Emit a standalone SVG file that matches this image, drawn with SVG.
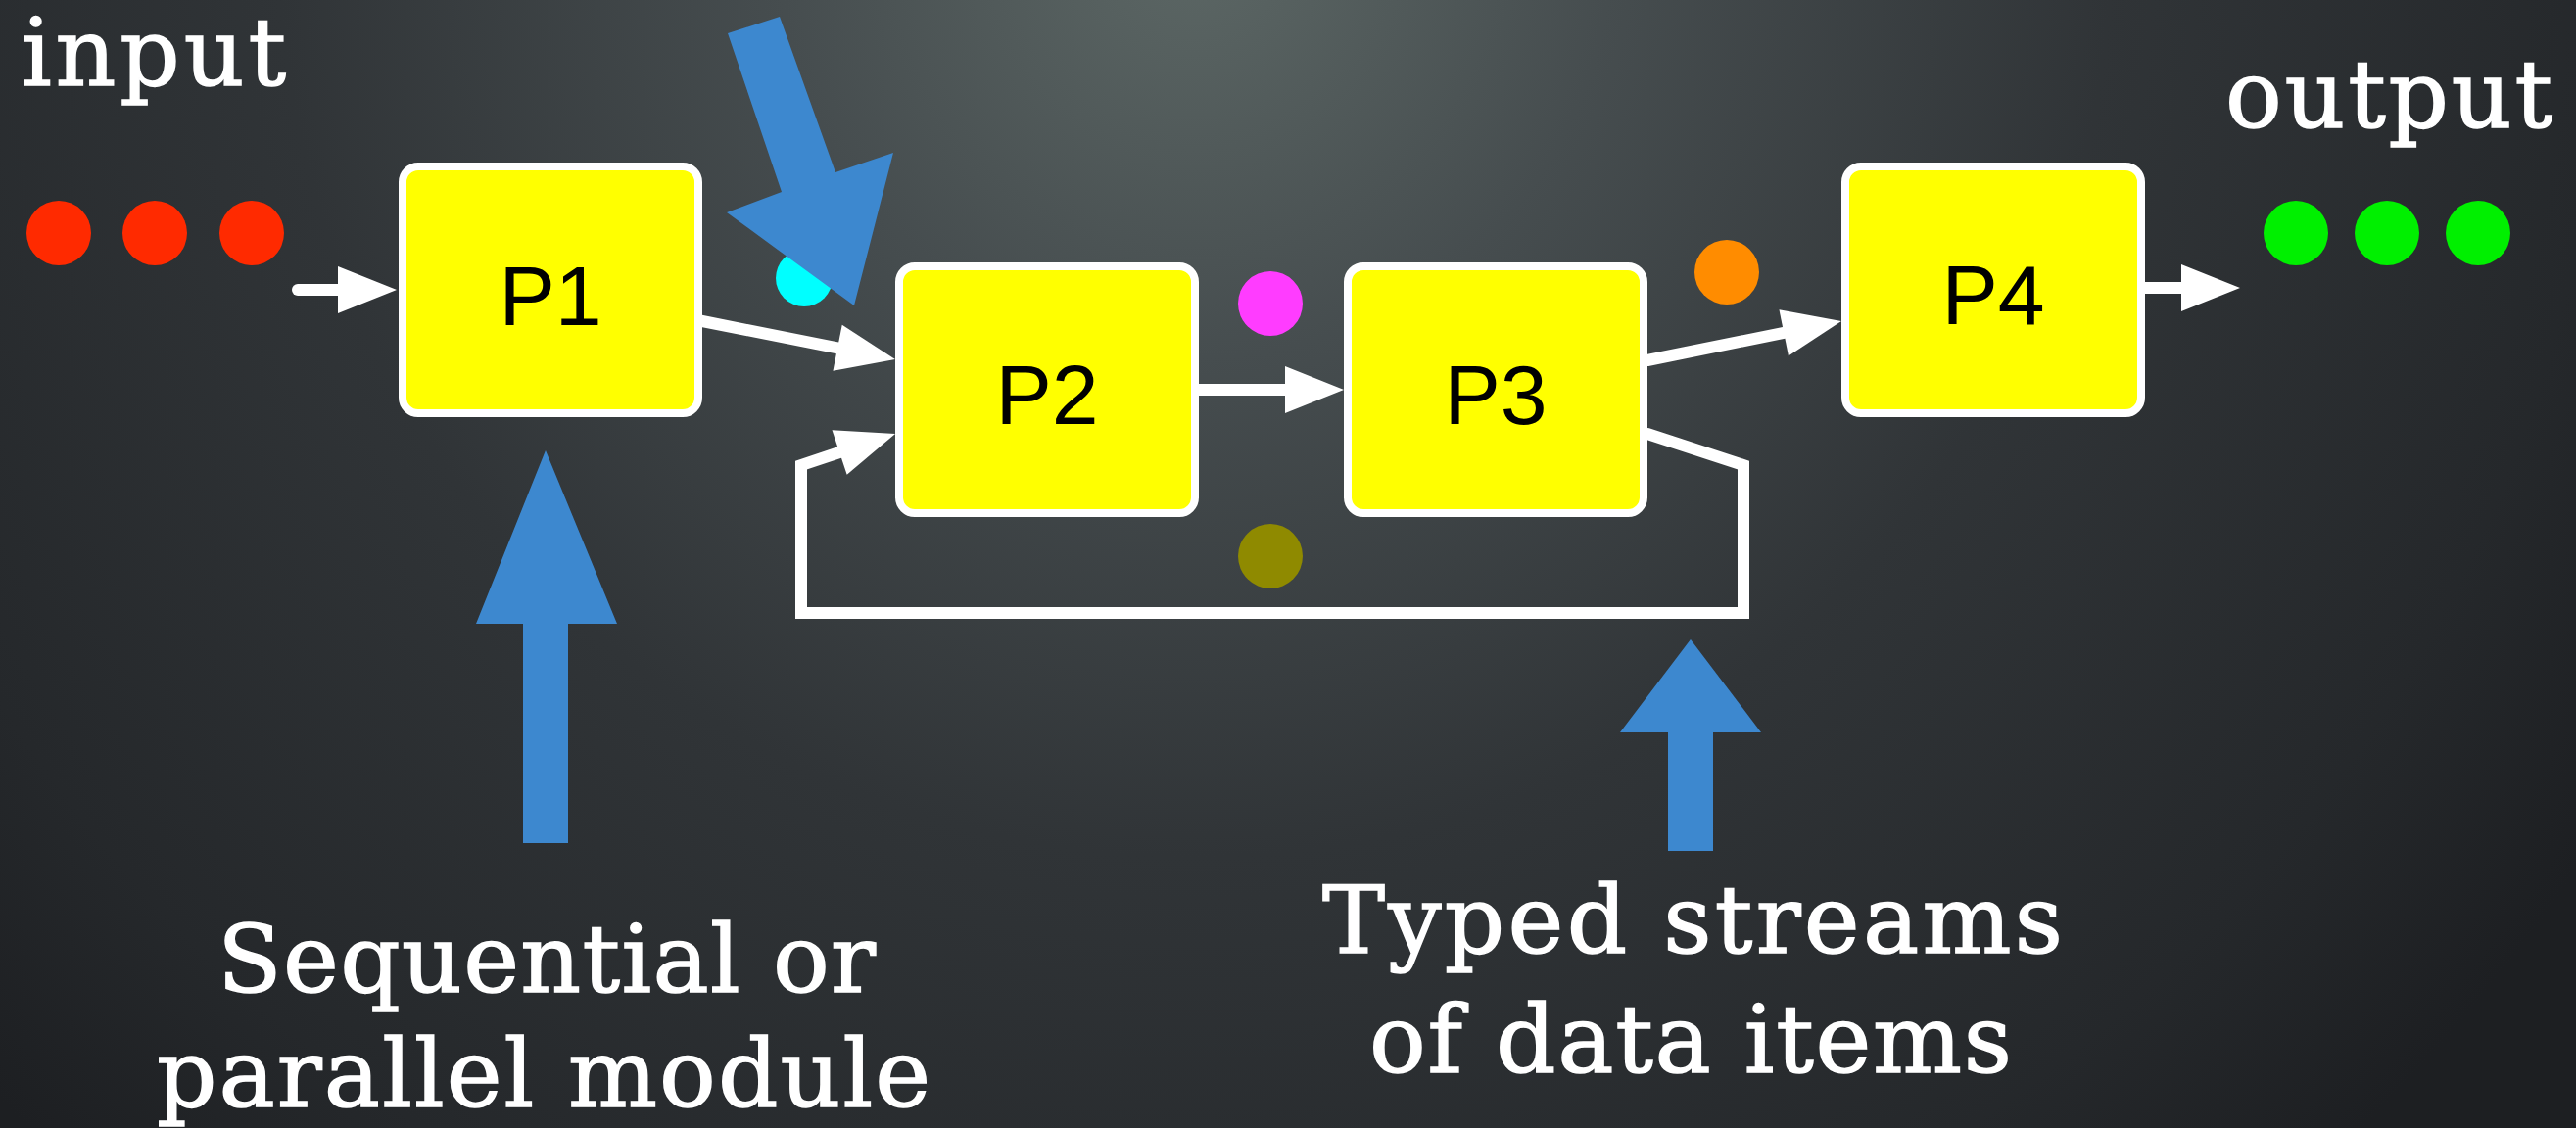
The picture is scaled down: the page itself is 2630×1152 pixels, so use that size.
<svg xmlns="http://www.w3.org/2000/svg" width="2630" height="1152" viewBox="0 0 2630 1152">
  <defs>
    <radialGradient id="bg" gradientUnits="userSpaceOnUse" cx="1220" cy="-60" r="1700">
      <stop offset="0" stop-color="#5c6765"/>
      <stop offset="0.25" stop-color="#464d4f"/>
      <stop offset="0.55" stop-color="#303437"/>
      <stop offset="0.85" stop-color="#25282b"/>
      <stop offset="1" stop-color="#1d1f22"/>
    </radialGradient>
    <!-- arrowhead: its base sits on the end of the wire, the tip points forward -->
    <marker id="head" markerUnits="userSpaceOnUse" markerWidth="62" markerHeight="48" refX="0" refY="24" orient="auto" overflow="visible">
      <path d="M0,0 L60,24 L0,48 Z" fill="#ffffff"/>
    </marker>
    <style>
      .box { fill: #ffff00; stroke: #ffffff; stroke-width: 8; }
      .plabel { font-family: "Liberation Sans", Arial, sans-serif; font-size: 86px; fill: #000000; text-anchor: middle; }
      .caption { font-family: "DejaVu Serif", "Liberation Serif", serif; font-size: 96px; fill: #ffffff; stroke: #ffffff; stroke-width: 1.5; }
      .wire { fill: none; stroke: #ffffff; stroke-width: 12; stroke-linecap: round; stroke-linejoin: miter; }
      .callout { fill: #3d88cf; }
    </style>
  </defs>

  <!-- backdrop -->
  <rect x="0" y="0" width="2630" height="1152" fill="url(#bg)"/>

  <!-- captions -->
  <g id="captions">
    <text class="caption" x="22" y="87" font-size="92" textLength="270">input</text>
    <text class="caption" x="2272" y="130" textLength="334">output</text>
    <text class="caption" x="222" y="1013" textLength="672">Sequential or</text>
    <text class="caption" x="160" y="1130" textLength="790">parallel module</text>
    <text class="caption" x="1350" y="973" textLength="756">Typed streams</text>
    <text class="caption" x="1398" y="1095" textLength="656">of data items</text>
  </g>

  <!-- input data items -->
  <g id="input-items" fill="#ff2a00">
    <circle cx="60" cy="238" r="33"/>
    <circle cx="158" cy="238" r="33"/>
    <circle cx="257" cy="238" r="33"/>
  </g>

  <!-- output data items -->
  <g id="output-items" fill="#00f000">
    <circle cx="2344" cy="238" r="33"/>
    <circle cx="2437" cy="238" r="33"/>
    <circle cx="2530" cy="238" r="33"/>
  </g>

  <!-- items travelling on the streams -->
  <g id="stream-items">
    <circle id="item-cyan" cx="821" cy="284" r="29" fill="#00ffff"/>
    <circle id="item-magenta" cx="1297" cy="310" r="33" fill="#ff3cff"/>
    <circle id="item-orange" cx="1763" cy="278" r="33" fill="#ff8c00"/>
    <circle id="item-olive" cx="1297" cy="568" r="33" fill="#8f8a00"/>
  </g>

  <!-- stream connectors (each ends at the base of its arrowhead) -->
  <g id="connectors">
    <path class="wire" d="M304,296 L345,296" marker-end="url(#head)"/>
    <path class="wire" d="M712,327 L855.1,355.3" marker-end="url(#head)"/>
    <path class="wire" d="M1224,398 L1312,398" marker-end="url(#head)"/>
    <path class="wire" d="M1682,368 L1821.2,339.9" marker-end="url(#head)"/>
    <path class="wire" d="M2187,294 L2227,294" marker-end="url(#head)"/>
    <path class="wire" d="M1682,443 L1780,475 L1780,626 L818,626 L818,475 L857.1,462" marker-end="url(#head)"/>
  </g>

  <!-- modules -->
  <g id="P1">
    <rect class="box" x="411" y="170" width="302" height="252" rx="16"/>
    <text class="plabel" x="562" y="332">P1</text>
  </g>
  <g id="P2">
    <rect class="box" x="918" y="272" width="302" height="252" rx="16"/>
    <text class="plabel" x="1069" y="433">P2</text>
  </g>
  <g id="P3">
    <rect class="box" x="1376" y="272" width="302" height="252" rx="16"/>
    <text class="plabel" x="1527" y="433">P3</text>
  </g>
  <g id="P4">
    <rect class="box" x="1884" y="170" width="302" height="252" rx="16"/>
    <text class="plabel" x="2035" y="331">P4</text>
  </g>

  <!-- blue callout arrows -->
  <g id="callouts">
    <polygon class="callout" points="743,34 796,17 853,176 912,156 872,312 742,217 798,196"/>
    <polygon class="callout" points="557,460 630,637 580,637 580,861 534,861 534,637 486,637"/>
    <polygon class="callout" points="1726,653 1798,748 1749,748 1749,869 1703,869 1703,748 1654,748"/>
  </g>
</svg>
